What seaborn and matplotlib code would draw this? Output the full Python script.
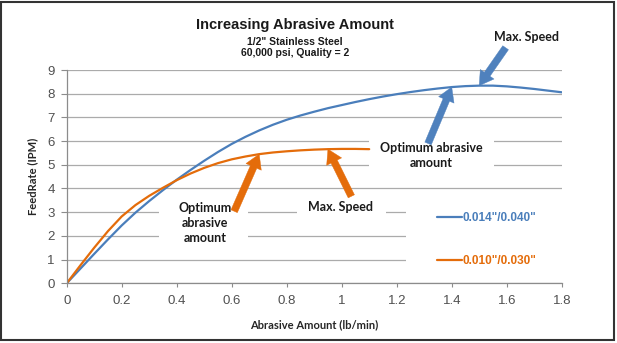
import numpy as np
import pandas as pd
import matplotlib
matplotlib.use("Agg")
import matplotlib.pyplot as plt
import seaborn as sns
from matplotlib.patches import Rectangle
from matplotlib.lines import Line2D

# Feed rate (IPM) vs. abrasive flow (lb/min) for two orifice/nozzle combinations
abrasive_large = [0.00, 0.05, 0.10, 0.15, 0.20, 0.25, 0.30, 0.35, 0.40, 0.45,
                  0.50, 0.55, 0.60, 0.65, 0.70, 0.75, 0.80, 0.85, 0.90, 0.95,
                  1.00, 1.05, 1.10, 1.15, 1.20, 1.25, 1.30, 1.35, 1.40, 1.45,
                  1.50, 1.55, 1.60, 1.65, 1.70, 1.75, 1.80]
feed_large = [0.00, 0.62, 1.24, 1.85, 2.44, 2.98, 3.47, 3.93, 4.37, 4.78,
              5.17, 5.54, 5.88, 6.18, 6.45, 6.69, 6.90, 7.08, 7.24, 7.39,
              7.52, 7.65, 7.77, 7.88, 7.98, 8.07, 8.15, 8.22, 8.28, 8.32,
              8.34, 8.34, 8.31, 8.26, 8.20, 8.13, 8.06]

abrasive_small = [0.00, 0.05, 0.10, 0.15, 0.20, 0.25, 0.30, 0.35, 0.40, 0.45,
                  0.50, 0.55, 0.60, 0.65, 0.70, 0.75, 0.80, 0.85, 0.90, 0.95,
                  1.00, 1.05, 1.10]
feed_small = [0.00, 0.76, 1.50, 2.20, 2.82, 3.30, 3.69, 4.03, 4.35, 4.63,
              4.87, 5.07, 5.23, 5.35, 5.45, 5.52, 5.57, 5.61, 5.64, 5.66,
              5.67, 5.67, 5.66]

series_labels = ['0.014"/0.040"', '0.010"/0.030"']
series_colors = ["#4a7ebb", "#e46c0a"]

x_ticks = [0, 0.2, 0.4, 0.6, 0.8, 1.0, 1.2, 1.4, 1.6, 1.8]
x_tick_labels = ["0", "0.2", "0.4", "0.6", "0.8", "1", "1.2", "1.4", "1.6", "1.8"]
y_ticks = [0, 1, 2, 3, 4, 5, 6, 7, 8, 9]

title = "Increasing Abrasive Amount"
subtitle_1 = '1/2" Stainless Steel'
subtitle_2 = "60,000 psi, Quality = 2"

df = pd.concat([
    pd.DataFrame({"abrasive": abrasive_large, "feed": feed_large, "combo": series_labels[0]}),
    pd.DataFrame({"abrasive": abrasive_small, "feed": feed_small, "combo": series_labels[1]}),
], ignore_index=True)

sns.set_theme(style="white")
plt.rcParams["font.family"] = ["Liberation Sans", "DejaVu Sans"]
bold_family = ["Lato", "Liberation Sans", "DejaVu Sans"]

fig = plt.figure(figsize=(6.17, 3.43), dpi=100)
ax = fig.add_axes([0.1081, 0.1741, 0.8023, 0.6218])

ax.set_axisbelow(True)
ax.grid(axis="y", color="#ababab", lw=0.9)
ax.grid(axis="x", visible=False)

sns.lineplot(data=df, x="abrasive", y="feed", hue="combo", hue_order=series_labels,
             palette=series_colors, estimator=None, errorbar=None, lw=1.6,
             legend=False, ax=ax, zorder=2)

ax.set_xlim(0, 1.8)
ax.set_ylim(0, 9)
ax.set_xticks(x_ticks)
ax.set_xticklabels(x_tick_labels)
ax.set_yticks(y_ticks)
ax.tick_params(axis="x", length=3, width=0.8, color="#8c8c8c", pad=5.5,
               labelsize=9.5, labelcolor="#505050", bottom=True)
ax.tick_params(axis="y", length=4, width=0.8, color="#8c8c8c", pad=4.5,
               labelsize=9.5, labelcolor="#505050", left=True)
for side in ("top", "right"):
    ax.spines[side].set_visible(False)
for side in ("left", "bottom"):
    ax.spines[side].set_color("#8c8c8c")
    ax.spines[side].set_linewidth(0.9)

ax.set_xlabel("Abrasive Amount (lb/min)", fontsize=8, fontweight="bold",
              family=bold_family, color="#262626")
ax.set_ylabel("FeedRate (IPM)", fontsize=8, fontweight="bold",
              family=bold_family, color="#262626")
ax.xaxis.set_label_coords(0.5, -0.17)
ax.yaxis.set_label_coords(-0.057, 0.5)

# Title block
fig.text(0.478, 0.927, title, ha="center", va="center", fontsize=10.5,
         fontweight="bold", color="#1a1a1a")
fig.text(0.478, 0.878, subtitle_1, ha="center", va="center", fontsize=7.5,
         fontweight="bold", color="#1a1a1a")
fig.text(0.478, 0.846, subtitle_2, ha="center", va="center", fontsize=7.5,
         fontweight="bold", color="#1a1a1a")

# White panels behind callout text and legend (they interrupt the gridlines)
for (x0, x1, y0, y1) in [(0.337, 0.659, 1.40, 3.67),
                         (0.837, 1.162, 2.60, 3.60),
                         (1.099, 1.555, 4.45, 6.50),
                         (1.234, 1.810, 0.35, 3.58)]:
    ax.add_patch(Rectangle((x0, y0), x1 - x0, y1 - y0, facecolor="white",
                           edgecolor="none", zorder=1, clip_on=False))

arrow_blue = "#4f81bd"
arrow_orange = "#e46c0a"
callout_kw = dict(fontsize=9, fontweight="bold", family=bold_family,
                  color="#1a1a1a", ha="center", va="center", zorder=3,
                  linespacing=1.3)


def block_arrow(tail, head, color):
    ax.annotate("", xy=head, xytext=tail, annotation_clip=False, zorder=4,
                arrowprops=dict(arrowstyle="simple,head_length=1.0,head_width=1.2,tail_width=0.5",
                                mutation_scale=10, color=color, lw=0.3,
                                shrinkA=0, shrinkB=0))


# Blue curve callouts
i_peak = int(np.argmax(feed_large))
blue_peak = (abrasive_large[i_peak], feed_large[i_peak])
blue_opt = (1.4, feed_large[abrasive_large.index(1.4)])
ax.text(1.672, 10.4, "Max. Speed", clip_on=False, **callout_kw)
block_arrow((1.596, 9.94), blue_peak, arrow_blue)
ax.text(1.325, 5.41, "Optimum abrasive\namount", **callout_kw)
block_arrow((1.314, 5.9), blue_opt, arrow_blue)

# Orange curve callouts
orange_max_x = 0.95
orange_max = (orange_max_x, feed_small[abrasive_small.index(orange_max_x)])
orange_opt = (0.7, feed_small[abrasive_small.index(0.7)])
ax.text(0.996, 3.22, "Max. Speed", **callout_kw)
block_arrow((1.035, 3.67), orange_max, arrow_orange)
ax.text(0.503, 2.54, "Optimum\nabrasive\namount", **callout_kw)
block_arrow((0.609, 3.04), orange_opt, arrow_orange)

# Legend
handles = [Line2D([], [], color=c, lw=1.6) for c in series_colors]
leg = ax.legend(handles, series_labels, loc="upper left", bbox_to_anchor=(0.748, 0.333),
                frameon=False, prop={"size": 8.5, "weight": "bold"}, labelcolor="linecolor",
                handlelength=2.1, handletextpad=0.1, labelspacing=2.6,
                borderpad=0, borderaxespad=0)
leg.set_zorder(3)

# Outer frame
fig.add_artist(Rectangle((0.0021, 0.0073), 0.9935, 0.9877, transform=fig.transFigure,
                         fill=False, edgecolor="#333333", lw=1.5))

fig.savefig("out.png", dpi=100)
